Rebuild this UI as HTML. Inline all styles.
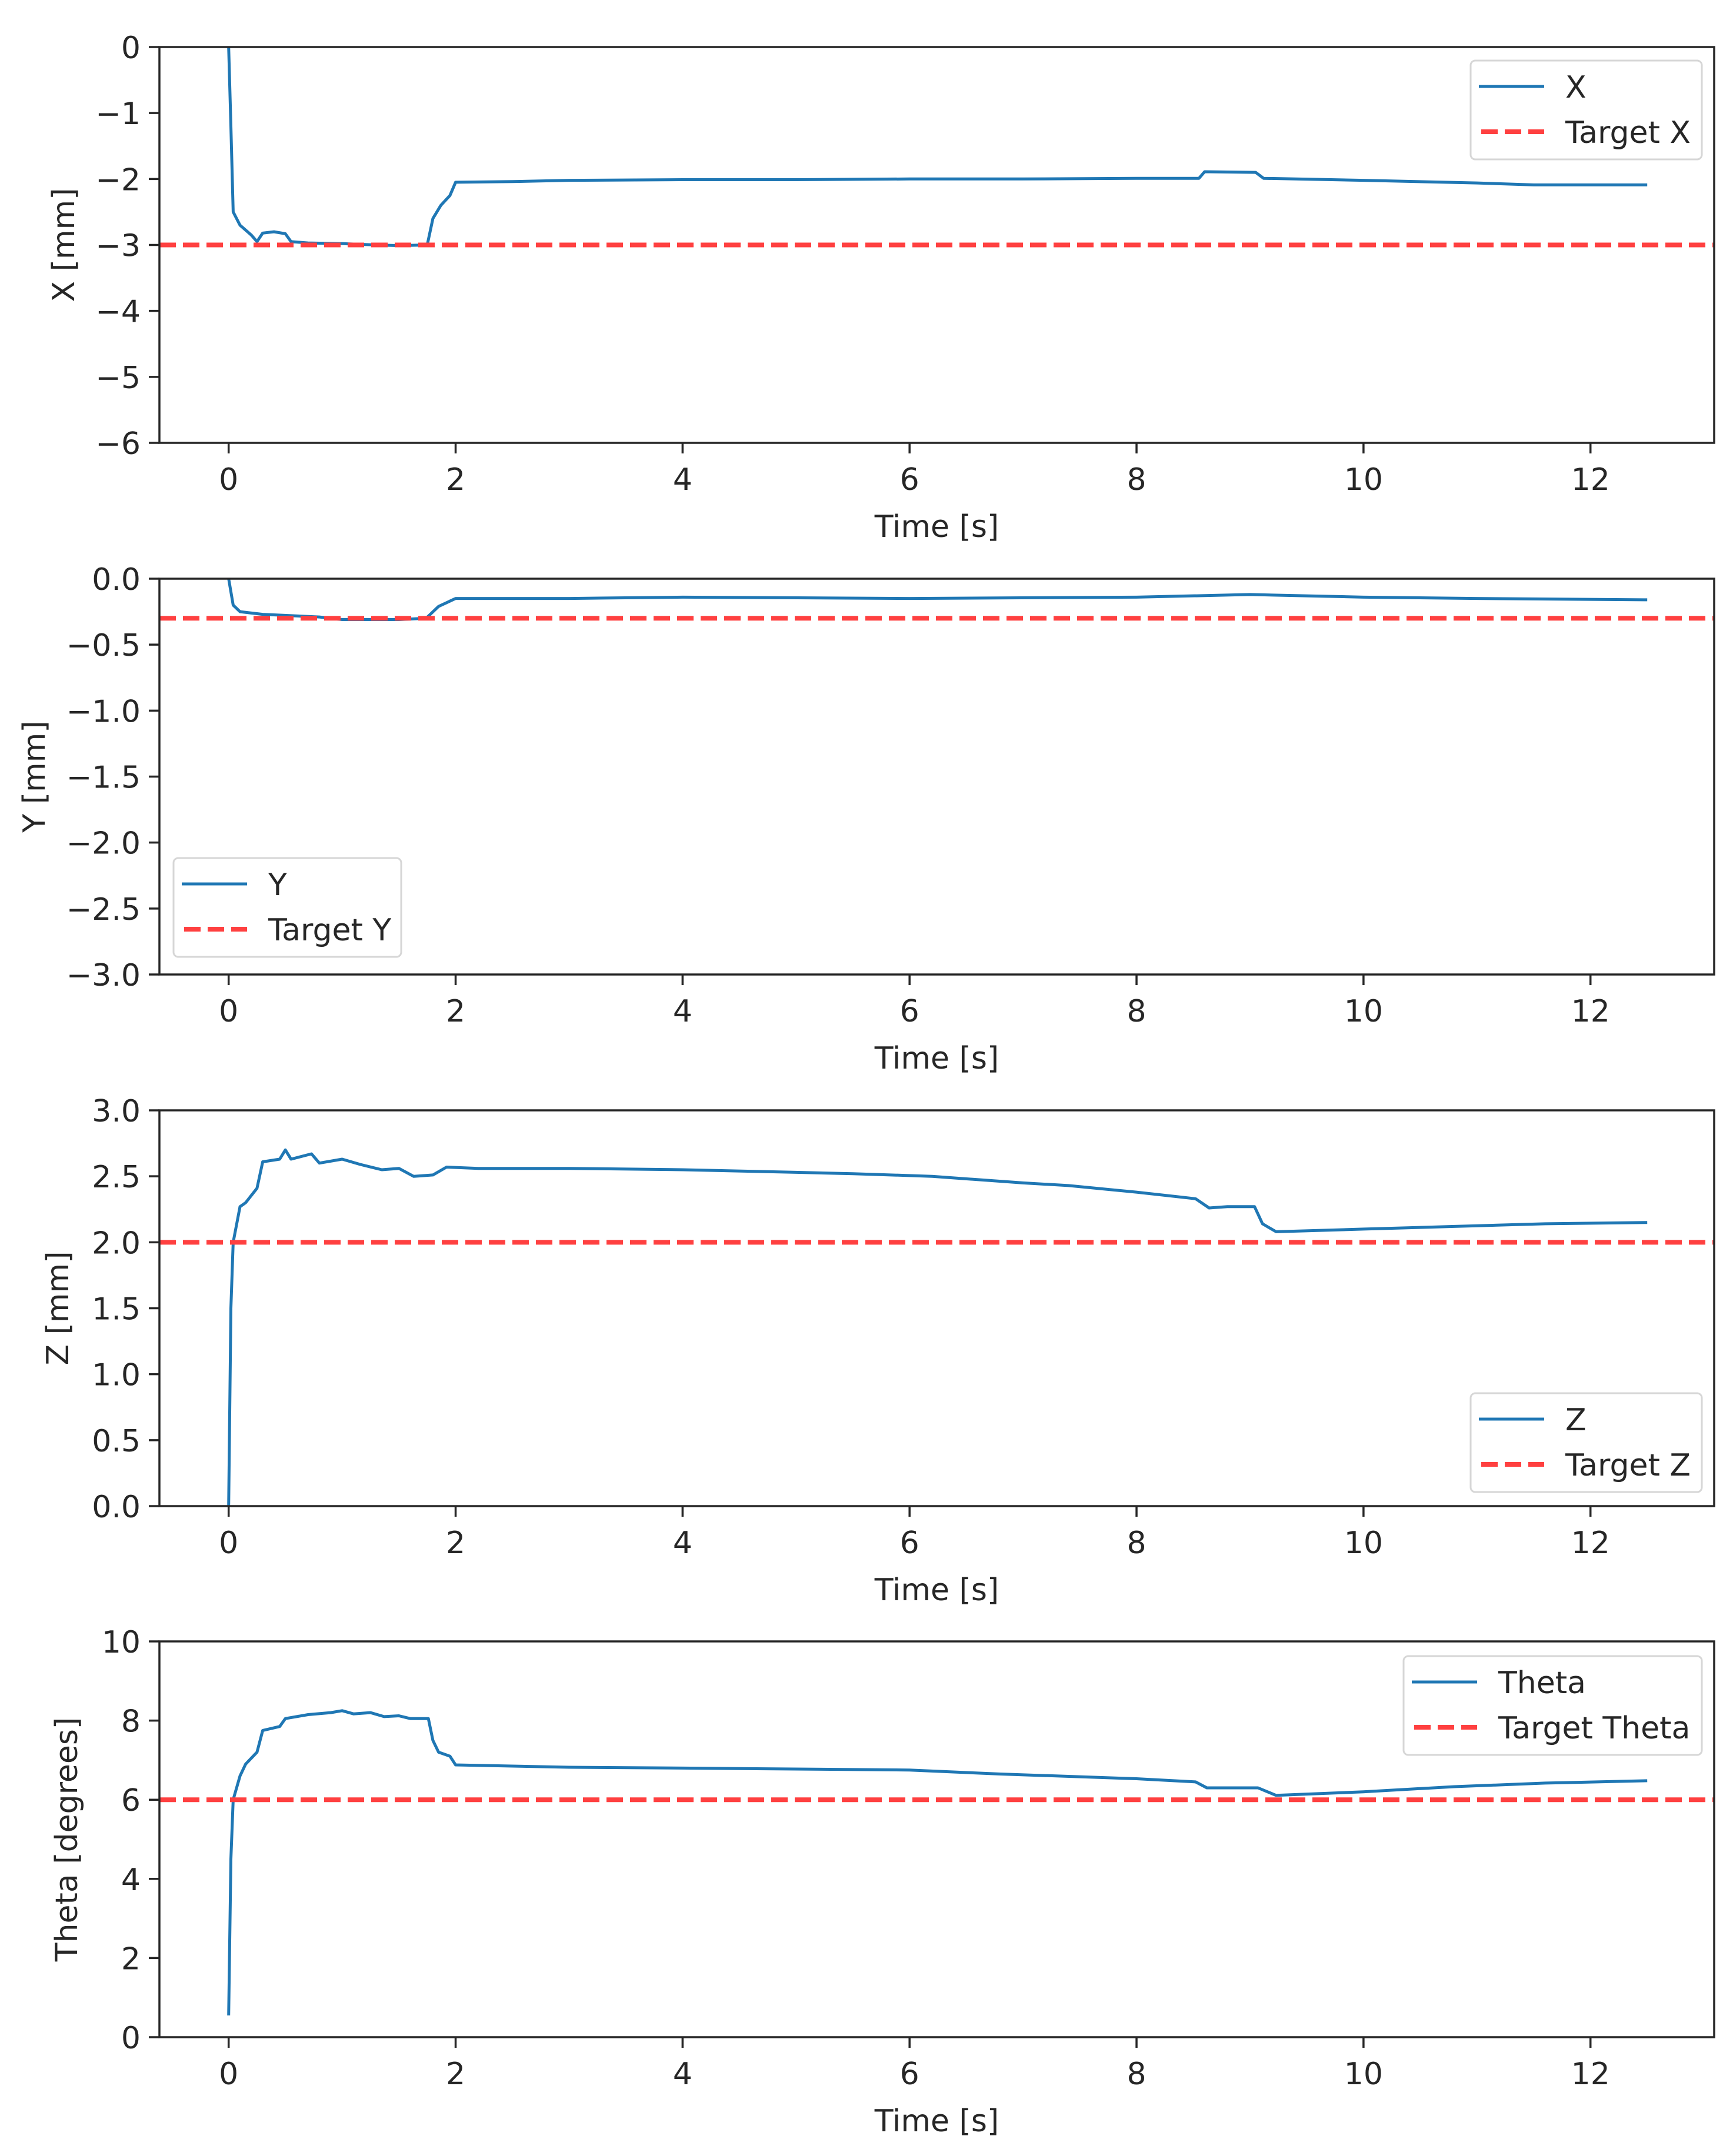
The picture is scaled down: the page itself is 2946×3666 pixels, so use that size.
<!DOCTYPE html>
<html><head><meta charset="utf-8">
<style>
html,body{margin:0;padding:0;background:#fff;}
svg{display:block;}
text{font-family:"DejaVu Sans","Liberation Sans",sans-serif;fill:#262626;}
</style></head>
<body>
<svg id="fig" width="2946" height="3666" viewBox="0 0 2946 3666" xmlns="http://www.w3.org/2000/svg"></svg>
<script>
// ---- data ----
const xTimes = [0,0.02,0.04,0.1,0.2,0.25,0.3,0.4,0.5,0.55,0.7,1.0,1.3,1.5,1.75,1.8,1.87,1.95,2.0,2.5,3.0,4,5,6,7,8,8.55,8.6,9.05,9.12,10,11,11.5,12.5];
const xValues = [0,-1.2,-2.5,-2.7,-2.85,-2.95,-2.82,-2.8,-2.83,-2.95,-2.97,-2.98,-3.0,-3.01,-3.0,-2.6,-2.4,-2.25,-2.05,-2.04,-2.02,-2.01,-2.01,-2.0,-2.0,-1.99,-1.99,-1.89,-1.9,-1.99,-2.02,-2.06,-2.09,-2.09];
const yTimes = [0,0.04,0.1,0.3,0.8,1.0,1.5,1.74,1.85,2.0,3,4,6,8,9,10,11,12.5];
const yValues = [0,-0.2,-0.25,-0.27,-0.29,-0.31,-0.31,-0.3,-0.21,-0.15,-0.15,-0.14,-0.15,-0.14,-0.12,-0.14,-0.15,-0.16];
const zTimes = [0,0.02,0.04,0.1,0.15,0.25,0.3,0.45,0.5,0.55,0.73,0.8,1.0,1.16,1.35,1.5,1.63,1.8,1.92,2.2,3,4,5,5.5,6.2,7,7.4,8,8.52,8.64,8.8,9.04,9.11,9.23,10,10.8,11.6,12.5];
const zValues = [0,1.5,2.0,2.27,2.3,2.41,2.61,2.63,2.7,2.63,2.67,2.6,2.63,2.59,2.55,2.56,2.5,2.51,2.57,2.56,2.56,2.55,2.53,2.52,2.5,2.45,2.43,2.38,2.33,2.26,2.27,2.27,2.14,2.08,2.10,2.12,2.14,2.15];
const thTimes = [0,0.02,0.04,0.1,0.15,0.25,0.3,0.45,0.5,0.7,0.9,1.0,1.1,1.25,1.37,1.5,1.6,1.76,1.8,1.85,1.95,2.0,2.5,3,4,6,6.8,8,8.52,8.62,9.07,9.23,10,10.8,11.6,12.5];
const thValues = [0.55,4.5,6.0,6.6,6.9,7.2,7.75,7.85,8.05,8.15,8.2,8.25,8.17,8.2,8.1,8.12,8.05,8.05,7.5,7.2,7.1,6.88,6.85,6.82,6.8,6.75,6.65,6.53,6.45,6.3,6.3,6.11,6.2,6.33,6.42,6.48];
const targets = [-3, -0.3, 2, 6];
const xTicks = [0,2,4,6,8,10,12];
const xTickLabels = ["0","2","4","6","8","10","12"];
const yTicksX = [0,-1,-2,-3,-4,-5,-6];
const yTickLabelsX = ["0","\u22121","\u22122","\u22123","\u22124","\u22125","\u22126"];
const yTicksY = [0,-0.5,-1,-1.5,-2,-2.5,-3];
const yTickLabelsY = ["0.0","\u22120.5","\u22121.0","\u22121.5","\u22122.0","\u22122.5","\u22123.0"];
const yTicksZ = [3,2.5,2,1.5,1,0.5,0];
const yTickLabelsZ = ["3.0","2.5","2.0","1.5","1.0","0.5","0.0"];
const yTicksTh = [10,8,6,4,2,0];
const yTickLabelsTh = ["10","8","6","4","2","0"];

// ---- layout ----
const NS = "http://www.w3.org/2000/svg";
const svg = document.getElementById('fig');
const L = 271, R = 2914, XMIN = -0.61, XMAX = 13.09;
function sx(t){ return L + (t - XMIN) / (XMAX - XMIN) * (R - L); }
function mk(tag, attrs, parent){
  const e = document.createElementNS(NS, tag);
  for (const k in attrs) e.setAttribute(k, attrs[k]);
  (parent || svg).appendChild(e);
  return e;
}
const panels = [
  {name:'x', top:80, ymin:-6, ymax:0, times:xTimes, vals:xValues, ticks:yTicksX, labels:yTickLabelsX, ylabel:'X [mm]', ylx:109, leg:{x:2500,y:103,w:393}, series:'X', target:'Target X'},
  {name:'y', top:984, ymin:-3, ymax:0, times:yTimes, vals:yValues, ticks:yTicksY, labels:yTickLabelsY, ylabel:'Y [mm]', ylx:59, leg:{x:295,y:1459,w:387}, series:'Y', target:'Target Y'},
  {name:'z', top:1888, ymin:0, ymax:3, times:zTimes, vals:zValues, ticks:yTicksZ, labels:yTickLabelsZ, ylabel:'Z [mm]', ylx:99, leg:{x:2500,y:2369,w:393}, series:'Z', target:'Target Z'},
  {name:'theta', top:2791, ymin:0, ymax:10, times:thTimes, vals:thValues, ticks:yTicksTh, labels:yTickLabelsTh, ylabel:'Theta [degrees]', ylx:114, leg:{x:2386,y:2816,w:507}, series:'Theta', target:'Target Theta'}
];
const H = 673;
panels.forEach((p, i) => {
  const g = mk('g', {});
  
  
  const B = p.top + H;
  const sy = v => B - (v - p.ymin) / (p.ymax - p.ymin) * H;
  // data line
  const pts = p.times.map((t, k) => sx(t).toFixed(1) + ',' + sy(p.vals[k]).toFixed(1)).join(' ');
  const line = mk('polyline', {points: pts, fill:'none', stroke:'#1f77b4', 'stroke-width':5, 'stroke-linejoin':'round'}, g);
  
  
  // target
  const ty = sy(targets[i]);
  const tl = mk('line', {x1:L, x2:R, y1:ty, y2:ty, stroke:'#ff4040', 'stroke-width':8, 'stroke-dasharray':'28 12'}, g);
  
  
  // frame
  const fr = mk('rect', {x:L, y:p.top, width:R-L, height:H, fill:'none', stroke:'#262626', 'stroke-width':3.5}, g);
  
  
  // x ticks
  xTicks.forEach((t, k) => {
    const X = sx(t);
    mk('line', {x1:X, x2:X, y1:B, y2:B+18, stroke:'#262626', 'stroke-width':3.5}, g);
    const tx = mk('text', {x:X, y:B+80, 'font-size':52, 'text-anchor':'middle'}, g);
    tx.textContent = xTickLabels[k];
    
    
  });
  const xt = mk('text', {x:(L+R)/2, y:B+160, 'font-size':52, 'text-anchor':'middle'}, g);
  xt.textContent = 'Time [s]';
  
  
  // y ticks
  p.ticks.forEach((v, k) => {
    const Y = sy(v);
    mk('line', {x1:L-18, x2:L, y1:Y, y2:Y, stroke:'#262626', 'stroke-width':3.5}, g);
    const ty2 = mk('text', {x:L-32, y:Y+19, 'font-size':52, 'text-anchor':'end'}, g);
    ty2.textContent = p.labels[k];
    
    
  });
  const cy = p.top + H/2;
  const yt = mk('text', {x:p.ylx, y:cy, 'font-size':52, 'text-anchor':'middle', transform:'rotate(-90 '+p.ylx+' '+cy+')', 'dominant-baseline':'central'}, g);
  yt.textContent = p.ylabel;
  
  
  // legend
  const lg = mk('g', {}, g);
  
  
  const lx = p.leg.x, ly = p.leg.y;
  mk('rect', {x:lx, y:ly, width:p.leg.w, height:168, rx:8, fill:'#fff', 'fill-opacity':0.8, stroke:'#d6d6d6', 'stroke-width':3}, lg);
  mk('line', {x1:lx+14, x2:lx+125, y1:ly+44, y2:ly+44, stroke:'#1f77b4', 'stroke-width':5}, lg);
  mk('line', {x1:lx+18, x2:lx+125, y1:ly+121, y2:ly+121, stroke:'#ff4040', 'stroke-width':8, 'stroke-dasharray':'28 12'}, lg);
  const t1 = mk('text', {x:lx+161, y:ly+63, 'font-size':52}, lg);
  t1.textContent = p.series;
  
  
  const t2 = mk('text', {x:lx+161, y:ly+140, 'font-size':52}, lg);
  t2.textContent = p.target;
  
  
});
</script>
</body></html>
